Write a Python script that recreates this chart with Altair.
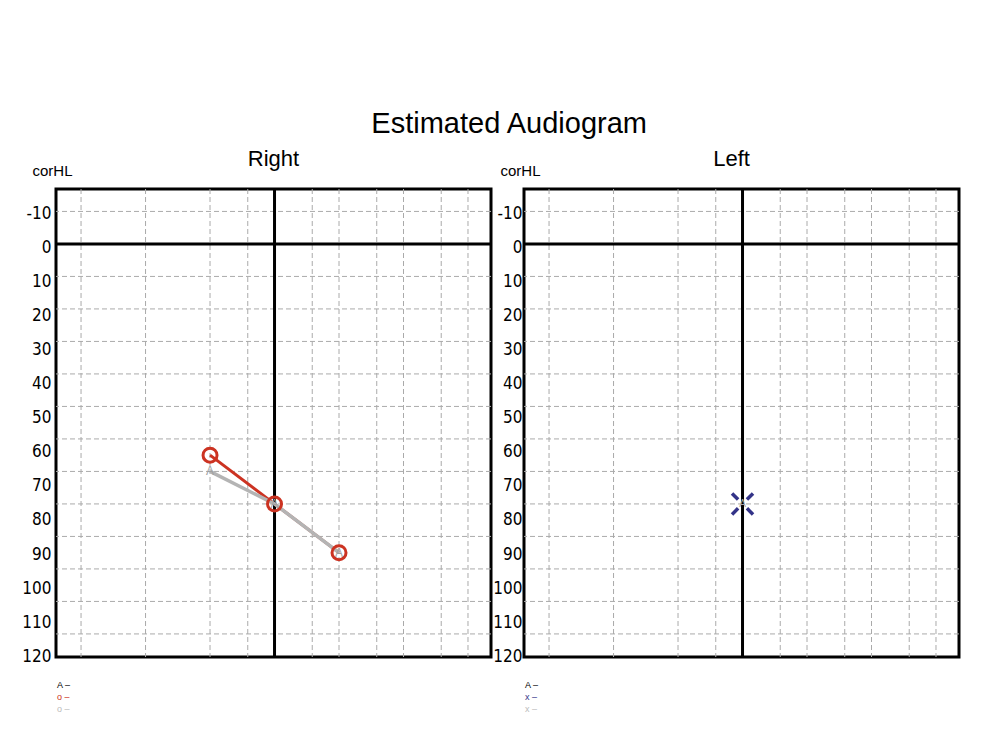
import altair as alt
import pandas as pd

# ---------------- data ----------------
freq_grid = [125, 250, 500, 750, 1500, 2000, 3000, 4000, 6000, 8000]
db_grid = [-10, 10, 20, 30, 40, 50, 60, 70, 80, 90, 100, 110, 120]
db_labels = [-10, 0, 10, 20, 30, 40, 50, 60, 70, 80, 90, 100, 110, 120]
ref_freq = [1000]
ref_db = [0]

right_freq = [500, 1000, 2000]
right_air_db = [65, 80, 95]   # red circles
right_est_db = [70, 80, 95]   # grey "A"

left_freq = [1000]
left_air_db = [80]            # blue X
left_est_db = [80]            # grey "A"

right_key_text = ["A \u2013", "o \u2013", "o \u2013"]
left_key_text = ["A \u2013", "x \u2013", "x \u2013"]

# ---------------- styling ----------------
RED = "#cc3322"
NAVY = "#333388"
GREY_LINE = "#b4b4b4"
GREY_A = "#a0a0a0"
GRID = "#aaaaaa"
SANS = "Liberation Sans, Arial, sans-serif"
NARROW = "Liberation Sans Narrow, Arial Narrow, DejaVu Sans Condensed, sans-serif"

W, H = 435, 468
X_DOMAIN = [95.5, 10244]
Y_DOMAIN = [-16.9, 127.1]
LABEL_DOMAIN = [-17.04, 120.2]

xscale = alt.Scale(type="log", domain=X_DOMAIN, nice=False)
yscale = alt.Scale(domain=Y_DOMAIN, reverse=True, nice=False, zero=False)


def X(field):
    return alt.X(f"{field}:Q", scale=xscale, axis=None)


def Y(field):
    return alt.Y(f"{field}:Q", scale=yscale, axis=None)


def panel(side, title, dx, label_pad, key_text, key_colors):
    vgrid = alt.Chart(pd.DataFrame({"f": freq_grid})).mark_rule(
        color=GRID, strokeWidth=1, strokeDash=[5, 3]
    ).encode(x=X("f"))
    hgrid = alt.Chart(pd.DataFrame({"d": db_grid})).mark_rule(
        color=GRID, strokeWidth=1, strokeDash=[5, 3]
    ).encode(y=Y("d"))
    vref = alt.Chart(pd.DataFrame({"f": ref_freq})).mark_rule(
        color="black", strokeWidth=3
    ).encode(x=X("f"))
    href = alt.Chart(pd.DataFrame({"d": ref_db})).mark_rule(
        color="black", strokeWidth=3
    ).encode(y=Y("d"))

    layers = [vgrid, hgrid, vref, href]

    if side == "right":
        df = pd.DataFrame({"f": right_freq, "air": right_air_db, "est": right_est_db})
        red_line = alt.Chart(df).mark_line(color=RED, strokeWidth=3).encode(x=X("f"), y=Y("air"))
        grey_line = alt.Chart(df).mark_line(color=GREY_LINE, strokeWidth=3.5).encode(x=X("f"), y=Y("est"))
        circles = alt.Chart(df).mark_point(
            shape="circle", filled=False, size=196, strokeWidth=3, color=RED, opacity=1
        ).encode(x=X("f"), y=Y("air"))
        a_txt = alt.Chart(df).mark_text(
            text="A", fontSize=12, font=SANS, color=GREY_A, baseline="middle"
        ).encode(x=X("f"), y=Y("est"))
        layers += [red_line, grey_line, circles, a_txt]
    else:
        df = pd.DataFrame({"f": left_freq, "air": left_air_db, "est": left_est_db})
        xshape = "M-1,-1L-0.42,-0.42M1,-1L0.42,-0.42M-1,1L-0.42,0.42M1,1L0.42,0.42"
        xmark = alt.Chart(df).mark_point(
            shape=xshape, filled=False, size=441, strokeWidth=3.5, color=NAVY, opacity=1
        ).encode(x=X("f"), y=Y("air"))
        a_txt = alt.Chart(df).mark_text(
            text="A", fontSize=10, font=SANS, color=GREY_A, baseline="middle"
        ).encode(x=X("f"), y=Y("est"))
        layers += [xmark, a_txt]

    for i, (t, c) in enumerate(zip(key_text, key_colors)):
        layers.append(
            alt.Chart(pd.DataFrame({"k": [t]})).mark_text(
                fontSize=9, font=SANS, color=c, align="left", baseline="middle"
            ).encode(x=alt.value(1), y=alt.value(H + 28 + 12 * i), text="k:N")
        )

    inner = alt.layer(*layers)

    labels = alt.Chart(pd.DataFrame({"v": db_labels})).mark_point(opacity=0).encode(
        y=alt.Y(
            "v:Q",
            scale=alt.Scale(domain=LABEL_DOMAIN, reverse=True, nice=False, zero=False),
            axis=alt.Axis(
                values=db_labels,
                orient="left",
                grid=False,
                ticks=False,
                domain=False,
                labelExpr="'' + datum.value",
                labelFont=NARROW,
                labelFontSize=17,
                labelColor="black",
                labelPadding=label_pad,
                title="corHL",
                titleAngle=0,
                titleX=-24,
                titleY=-14,
                titleAlign="left",
                titleBaseline="alphabetic",
                titleFont=SANS,
                titleFontSize=15,
                titleFontWeight="normal",
                titleColor="black",
            ),
        )
    )

    return (
        alt.layer(inner, labels)
        .resolve_scale(y="independent")
        .properties(
            width=W,
            height=H,
            title=alt.TitleParams(
                text=title,
                font=SANS,
                fontSize=22,
                fontWeight="normal",
                color="black",
                anchor="middle",
                frame="group",
                dx=dx,
                offset=-8,
            ),
        )
    )


right = panel("right", "Right", 0, 5, right_key_text, ["#000000", RED, "#bbbbbb"])
left = panel("left", "Left", -10, 2, left_key_text, ["#000000", NAVY, "#bbbbbb"])

chart = (
    alt.hconcat(right, left, spacing=-3)
    .properties(
        title=alt.TitleParams(
            text="Estimated Audiogram",
            font=SANS,
            fontSize=29,
            fontWeight="normal",
            color="black",
            anchor="middle",
            offset=8,
            dx=18,
        ),
        padding={"left": 12, "top": 101, "right": 10, "bottom": 10},
        background="white",
    )
    .configure_view(stroke="black", strokeWidth=3)
)

chart.save("out.html", embed_options={"renderer": "svg", "actions": False})
